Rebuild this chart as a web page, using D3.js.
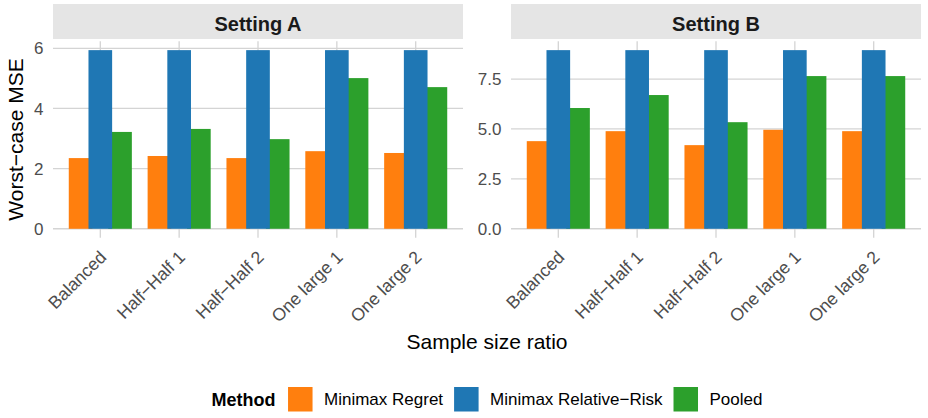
<!DOCTYPE html>
<html>
<head>
<meta charset="utf-8">
<script src="https://cdn.jsdelivr.net/npm/d3@7"></script>
<style>
  body { margin: 0; background: #fff; }
  svg { display: block; font-family: "Liberation Sans", Arial, sans-serif; }
  .grid line { stroke: #d4d4d4; stroke-width: 1.3; }
  .tick-label { fill: #4d4d4d; font-size: 17px; }
  .x-label { font-size: 17.6px; }
  .strip-text { fill: #1a1a1a; font-size: 20px; font-weight: bold; }
  .axis-title { fill: #000; font-size: 21px; }
  .legend-text { fill: #000; font-size: 17px; }
  .legend-title { fill: #000; font-size: 18px; font-weight: bold; }
</style>
</head>
<body>
<div id="chart"></div>
<script>
// data
var ratios = ["Balanced", "Half\u2212Half 1", "Half\u2212Half 2", "One large 1", "One large 2"];
var methods = ["Minimax Regret", "Minimax Relative\u2212Risk", "Pooled"];
var colors = ["#ff7f0e", "#1f77b4", "#2ca02c"];
var settings = ["Setting A", "Setting B"];

var settingA_regret = [2.35, 2.42, 2.35, 2.58, 2.52];
var settingA_relrisk = [5.94, 5.94, 5.94, 5.94, 5.94];
var settingA_pooled = [3.22, 3.32, 2.98, 5.01, 4.71];

var settingB_regret = [4.39, 4.89, 4.19, 4.96, 4.89];
var settingB_relrisk = [8.95, 8.95, 8.95, 8.95, 8.95];
var settingB_pooled = [6.05, 6.70, 5.34, 7.65, 7.65];

var yTicksA = [0, 2, 4, 6];
var yTicksB = [0, 2.5, 5, 7.5];

var width = 928, height = 418;
var panel_top = 41.2, panel_bottom = 237.7;
var panels = [
  { name: settings[0], x0: 53, x1: 463, series: [settingA_regret, settingA_relrisk, settingA_pooled], ticks: yTicksA, fmt: d3.format("d") },
  { name: settings[1], x0: 511, x1: 921, series: [settingB_regret, settingB_relrisk, settingB_pooled], ticks: yTicksB, fmt: d3.format(".1f") }
];

var svg = d3.select("#chart").append("svg")
  .attr("width", width).attr("height", height);

panels.forEach(function (p) {
  var x = d3.scalePoint().domain(ratios).range([p.x0, p.x1]).padding(0.6);
  var step = x.step();
  // dodge width 0.75, bar width 0.9 of a third
  var xm = d3.scaleBand().domain(methods).range([-0.375 * step, 0.375 * step]);
  var barW = 0.3 * step;

  var ymax = d3.max(p.series, s => d3.max(s));
  var y = d3.scaleLinear()
    .domain([-0.05 * ymax, ymax * 1.05])
    .range([panel_bottom, panel_top]);

  // strip
  svg.append("rect")
    .attr("x", p.x0).attr("y", 4)
    .attr("width", p.x1 - p.x0).attr("height", 35)
    .attr("fill", "#e5e5e5");
  svg.append("text")
    .attr("class", "strip-text")
    .attr("x", (p.x0 + p.x1) / 2).attr("y", 31)
    .attr("text-anchor", "middle")
    .text(p.name);

  // grid
  var g = svg.append("g").attr("class", "grid");
  g.selectAll(".hline").data(p.ticks).join("line")
    .attr("x1", p.x0).attr("x2", p.x1)
    .attr("y1", d => y(d)).attr("y2", d => y(d));
  g.selectAll(".vline").data(ratios).join("line")
    .attr("x1", d => x(d)).attr("x2", d => x(d))
    .attr("y1", panel_top).attr("y2", panel_bottom);

  // bars: orange, green, then blue on top
  [0, 2, 1].forEach(function (mi) {
    svg.append("g").selectAll("rect")
      .data(p.series[mi].map((v, i) => ({ r: ratios[i], v: v })))
      .join("rect")
      .attr("x", d => x(d.r) + xm(methods[mi]) + xm.bandwidth() / 2 - barW / 2)
      .attr("width", barW)
      .attr("y", d => y(d.v))
      .attr("height", d => y(0) - y(d.v))
      .attr("fill", colors[mi]);
  });

  // y tick labels
  svg.append("g").selectAll("text").data(p.ticks).join("text")
    .attr("class", "tick-label")
    .attr("x", p.x0 - 9.5)
    .attr("y", d => y(d))
    .attr("dy", "0.36em")
    .attr("text-anchor", "end")
    .text(d => p.fmt(d));

  // x tick labels, rotated 45
  svg.append("g").selectAll("text").data(ratios).join("text")
    .attr("class", "tick-label x-label")
    .attr("transform", d => "translate(" + (x(d) + 7) + "," + (panel_bottom + 20.5) + ") rotate(-45)")
    .attr("text-anchor", "end")
    .text(d => d);
});

// axis titles
svg.append("text")
  .attr("class", "axis-title")
  .attr("transform", "translate(23," + (panel_top + panel_bottom) / 2 + ") rotate(-90)")
  .attr("text-anchor", "middle")
  .text("Worst\u2212case MSE");

svg.append("text")
  .attr("class", "axis-title")
  .attr("x", (53 + 921) / 2).attr("y", 349)
  .attr("text-anchor", "middle")
  .text("Sample size ratio");

// legend
var key = 24.5, legY = 387;
var leg = svg.append("g");
var title = leg.append("text").attr("class", "legend-title")
  .attr("x", 0).attr("y", legY + key / 2).attr("dy", "0.36em")
  .text("Method");
var cx = title.node().getComputedTextLength() + 12.5;
methods.forEach(function (m, i) {
  leg.append("rect")
    .attr("x", cx).attr("y", legY)
    .attr("width", key).attr("height", key)
    .attr("fill", colors[i]);
  var t = leg.append("text").attr("class", "legend-text")
    .attr("x", cx + key + 11.5).attr("y", legY + key / 2).attr("dy", "0.36em")
    .text(m);
  cx += key + 11.5 + t.node().getComputedTextLength() + 11;
});
var legW = cx - 11;
leg.attr("transform", "translate(" + ((53 + 921) / 2 - legW / 2) + ",0)");
</script>
</body>
</html>
